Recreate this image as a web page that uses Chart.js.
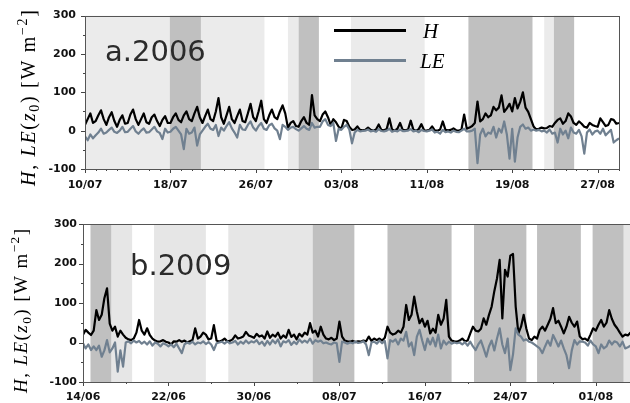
<!DOCTYPE html>
<html>
<head>
<meta charset="utf-8">
<script src="https://cdn.jsdelivr.net/npm/chart.js@4.4.1/dist/chart.umd.min.js"></script>
<style>
  html, body { margin: 0; padding: 0; background: #fff; }
  #wrap { position: relative; width: 630px; height: 403px; overflow: hidden; }
  #panelA { position: absolute; left: 0; top: 0; }
  #panelB { position: absolute; left: 0; top: 200px; }
</style>
</head>
<body>
<div id="wrap">
  <canvas id="panelA" width="630" height="200"></canvas>
  <canvas id="panelB" width="630" height="203"></canvas>
</div>
<script>
// 6-hourly fluxes (W m-2), one row per day starting at the first tick date
const STEP = 0.25;

// --- 2006: 10/07 .. 29/08 ---
const hA = [
  15, 30, 45, 20,   25, 40, 53, 30,   15, 35, 48, 25,   10, 28, 40, 18,
  20, 42, 55, 30,   15, 30, 45, 22,   18, 35, 42, 25,   12, 28, 38, 20,
  20, 35, 45, 28,   22, 40, 50, 30,   25, 45, 62, 35,   20, 38, 55, 30,
  25, 50, 85, 35,   18, 40, 62, 30,   20, 38, 55, 25,   22, 45, 70, 35,
  25, 50, 78, 30,   20, 40, 55, 35,   30, 50, 66, 45,    8, 20, 25, 12,
  10, 25, 35, 20,   15, 93, 40, 30,   25, 42, 50, 35,   15, 30, 22, 10,
   5, 28, 25, 10,    2,  3, 11,  2,    1,  2,  8,  2,    0,  3, 16,  2,
   1,  4, 32,  3,    0,  5, 20,  2,    1,  3, 26,  2,    0,  4, 17,  1,
   0,  2, 11,  1,    0,  3, 24,  2,    1,  2,  6,  1,    0,  3, 42,  5,
   8, 12, 20, 76,   24, 30, 45, 35,   40, 62, 53, 60,   92, 49, 58, 70,
  50, 85, 58, 75,  100, 60, 49, 30,   11,  3,  5,  8,    6,  7, 12, 10,
  20, 28, 32, 18,   25, 45, 37, 20,   15, 24, 18, 10,    8, 20, 15, 12,
  10, 32, 22, 12,   15, 30, 28, 18,   20
];
const leA = [
  -15, -25, -10, -20,  -12,  -5,   5,  -8,   -5,   2,   8,  -3,   -6,   0,  10,  -4,
   -3,   5,  12,  -2,   -8,   0,   6,  -5,   -4,   3,  10,  -2,   -6, -22,   5,  -5,
   -3,   5,  10,   0,  -10, -48,   5,  -8,   -5,   8, -39, -10,    0,  10,  18,   5,
    2,  15, -14,   8,    0,  12,  22,   6,   -5, -18,  15,   3,    2,  15,  24,   8,
    0,  12,  20,   5,    2,  14,  18,   6,    0, -22,  15,  10,    2,   8,  10,   4,
    0,   6,  12,   5,    2,  20,   8,  10,   10,  24,  30,  15,   12,  20, -27,   5,
    2,  10,  15,   3,  -33,  -5,   2,  -2,   -1,   0,   3,  -2,    0,  -3,   4,  -1,
   -2,   0,   5,  -3,    0,  -2,   3,  -1,   -1,   0,   4,  -2,    0,  -4,   2,  -1,
   -2,   0,   3,  -5,   -3,  -8,   2,  -4,   -2,  -5,   0,  -3,   -4,   0,   5,  -2,
   -2,   0,   5, -85,  -10,   5, -15,  -5,   -8,  10, -18,   5,   -5,  24, -10, -73,
    5, -81, -18,  10,   16,   5,   8,   0,    3,   0,   2,  -2,    0,  -5,   3,  -8,
   -5, -31,   5, -10,    0, -20,   8,  -5,   -8,   2, -15, -60,   -5,   3, -10,  -2,
    0,  -8,   5, -12,   -5,   2, -31, -25,  -20
];
const tickDaysA = [0, 8, 16, 24, 32, 40, 48];
const tickLabelsA = ['10/07', '18/07', '26/07', '03/08', '11/08', '19/08', '27/08'];
const lightA = [[0, 16.8], [19.0, 20.0], [24.9, 31.8], [43.0, 43.9]];
const darkA = [[7.95, 10.85], [20.0, 21.9], [35.9, 41.9], [43.9, 45.8]];

// --- 2009: 14/06 .. early 08 ---
const hB = [
   20,  32,  25,  19,   30,  82,  57,  70,  112, 137,  48,  30,   40,  15,  30,  20,
   12,   8,   6,  10,   25,  57,  30,  20,   36,  19,  10,   5,    2,   3,   6,   2,
    0,  -5,   3,   2,    6,   2,   5,   0,    3,   6,  36,  10,   15,  25,  20,   8,
   10,  44,   5,   2,    5,  10,   3,   4,    8,  18,  10,  12,   15,  27,  18,  15,
   12,  22,  15,  18,   10,  28,  12,  20,   15,  25,  10,  18,   12,  32,  14,  20,
    8,  22,  15,  25,   20,  49,  25,  30,   15,  40,  20,  10,    8,  12,   6,  10,
   53,  15,   5,   3,    2,   4,   1,   3,    2,   5,   3,  15,    4,  10,   6,  10,
    5,  12,  40,  25,   20,  23,  30,  25,   40,  95,  57,  70,  116,  78,  49,  60,
   40,  55,  23,  35,   25,  70,  45,  60,  108,  15,   5,   3,    2,   5,  10,   3,
    5,  23,  40,  30,   28,  35,  61,  45,   70,  91, 130, 162,  209,  61, 184, 167,
  220, 224,  91,  23,   40,  70,  35,  10,    6,  15,  10,  32,   40,  30,  45,  60,
   87,  49,  55,  40,   23,  40,  65,  50,   40,  53,  15,   8,   10,   5,  20,  36,
   30,  45,  57,  40,   50,  82,  60,  45,   36,  25,  15,  20,   18,  25
];
const leB = [
   -2, -15,  -5, -19,  -10, -19,  -8, -36,  -20,   6, -25, -15,    0, -74, -20, -61,
    0,   3,  -2,   5,    0,   4,  -3,   2,   -5,   3,  -8,   0,   -3, -10,  -2,  -5,
  -10,  -5, -12,  -3,  -15, -27,  -5,   0,   -3,   2,  -5,   0,   -2,   3,  -4,   1,
   -5, -19,  -2,   0,    2,  -3,   3,  -2,    0,   4,  -5,   2,   -3,   5,  -2,   3,
    0,   6,  -4,   2,   -8,   4,  -5,   6,   -2,   8, -10,   3,    0,   6,  -6,   2,
   -4,   8,   0,   5,    0,  10,  -3,   6,    2,   5,  -2,   0,   -3,  -5,   0,  -2,
  -49,   2,   0,  -3,    0,  -2,   2,  -1,    0,   3,  -5, -32,    0,   2,  -3,   5,
   -2,   4, -40,   6,    2,   8,  -5,  10,    5,  27, -10,   0,  -32,  15,  32,   5,
  -19,  10,  -5,  12,  -10,  20, -15,   5,   -5,   2,  -3,   0,   -2,   0,  -5,   1,
   -8,   2, -10, -19,   -5,   5, -15, -36,  -10,   5, -20,  10,   36,  -5, -27,  10,
  -70, -30,  36,  20,   15,   5,   8,   2,    0,  -5, -10, -15,  -27, -10,   5,  -8,
   19,   5, -10,   5,  -15, -32, -65, -20,    6,  -5,   3,   2,    0,  -8,   5,  -5,
  -10, -27,  -5, -15,  -10,   5,  -5,   3,    0, -10,   2, -15,  -12,  -8
];
const tickDaysB = [0, 8, 16, 24, 32, 40, 48];
const tickLabelsB = ['14/06', '22/06', '30/06', '08/07', '16/07', '24/07', '01/08'];
const lightB = [[2.65, 4.6], [6.65, 11.5], [13.6, 21.5], [50.6, 52]];
const darkB = [[0.7, 2.65], [21.5, 25.4], [28.5, 34.5], [36.6, 41.5], [42.5, 46.6], [47.7, 50.6]];

const H_COLOR = '#000000';
const LE_COLOR = '#708090';

const toPoints = vals => vals.map((v, i) => ({ x: i * STEP, y: v }));

const labelParts = [
  { t: 'H', i: true }, { t: ', ' }, { t: 'LE', i: true }, { t: '(' }, { t: 'z', i: true },
  { t: '0', sub: true }, { t: ') [W m' }, { t: '\u22122', sup: true }, { t: ']' }
];

function partFont(p, size) {
  const s = (p.sub || p.sup) ? size * 0.7 : size;
  return (p.i ? 'italic ' : '') + s.toFixed(2) + 'px "Liberation Serif"';
}

// rotated mathtext-like label, glyphs spread evenly over the wanted length
function drawAxisLabel(ctx, baseX, centerY, length, size) {
  const glyphs = [];
  labelParts.forEach(p => {
    ctx.font = partFont(p, size);
    [...p.t].forEach(ch => glyphs.push({ ch, p, w: ctx.measureText(ch).width }));
  });
  const natural = glyphs.reduce((s, g) => s + g.w, 0);
  const gap = Math.max(0, (length - natural) / (glyphs.length - 1));
  ctx.save();
  ctx.translate(baseX, centerY);
  ctx.rotate(-Math.PI / 2);
  ctx.fillStyle = '#000';
  ctx.textBaseline = 'alphabetic';
  let x = -length / 2;
  glyphs.forEach(g => {
    ctx.font = partFont(g.p, size);
    const dy = g.p.sub ? size * 0.2 : g.p.sup ? -size * 0.42 : 0;
    ctx.fillText(g.ch, x, dy);
    x += g.w + gap;
  });
  ctx.restore();
}

// shaded periods, tick marks, frame and panel text
const panelDecor = {
  id: 'panelDecor',
  beforeDatasetsDraw(chart, args, o) {
    const { ctx, chartArea: a, scales: { x } } = chart;
    ctx.save();
    ctx.beginPath();
    ctx.rect(a.left, a.top, a.right - a.left, a.bottom - a.top);
    ctx.clip();
    const band = (spans, color) => spans.forEach(([s, e]) => {
      const x0 = x.getPixelForValue(s), x1 = x.getPixelForValue(e);
      ctx.fillStyle = color;
      ctx.fillRect(x0, a.top, x1 - x0, a.bottom - a.top);
    });
    band(o.light, o.lightColor);
    band(o.dark, '#c0c0c0');
    ctx.restore();
  },
  afterDraw(chart, args, o) {
    const { ctx, chartArea: a, scales: { x, y } } = chart;
    ctx.save();
    ctx.strokeStyle = '#444';
    ctx.lineWidth = 1;
    ctx.beginPath();
    for (let d = 0; d <= x.max; d += o.minorStep) {
      const px = Math.round(x.getPixelForValue(d)) + 0.5;
      const len = o.ticks.includes(d) ? 4 : 2;
      ctx.moveTo(px, a.bottom);
      ctx.lineTo(px, a.bottom + len);
    }
    for (let v = y.min; v <= y.max; v += 50) {
      const py = Math.round(y.getPixelForValue(v)) + 0.5;
      const len = v % 100 === 0 ? 4 : 2;
      ctx.moveTo(a.left, py);
      ctx.lineTo(a.left - len, py);
    }
    ctx.stroke();

    ctx.strokeStyle = '#555';
    ctx.strokeRect(Math.round(a.left) + 0.5, Math.round(a.top) + 0.5,
      Math.round(a.right - a.left), Math.round(a.bottom - a.top));

    ctx.fillStyle = '#2b2b2b';
    ctx.font = '29px "DejaVu Sans"';
    ctx.textBaseline = 'alphabetic';
    ctx.fillText(o.title, o.titleX, o.titleY);

    drawAxisLabel(ctx, o.labelX, o.labelY, o.labelLen, o.labelSize);

    if (o.legend) {
      const items = [['H', H_COLOR, 30.5, 37.5, 423], ['LE', LE_COLOR, 60.5, 67.5, 420]];
      items.forEach(([name, color, ly, ty, tx]) => {
        ctx.strokeStyle = color;
        ctx.lineWidth = 3;
        ctx.beginPath();
        ctx.moveTo(334, ly);
        ctx.lineTo(406, ly);
        ctx.stroke();
        ctx.fillStyle = '#000';
        ctx.font = 'italic 21px "Liberation Serif"';
        ctx.fillText(name, tx, ty);
      });
    }
    ctx.restore();
  }
};

function makePanel(canvas, cfg) {
  const tickFont = { family: 'DejaVu Sans', weight: 'bold', size: 11 };
  return new Chart(canvas, {
    type: 'line',
    data: {
      datasets: [
        { label: 'H', data: toPoints(cfg.h), borderColor: H_COLOR, borderWidth: 2.2, order: 2 },
        { label: 'LE', data: toPoints(cfg.le), borderColor: LE_COLOR, borderWidth: 2.2, order: 1 }
      ]
    },
    options: {
      responsive: false,
      animation: false,
      events: [],
      layout: { padding: cfg.padding },
      elements: {
        point: { radius: 0 },
        line: { tension: 0, borderJoinStyle: 'round' }
      },
      scales: {
        x: {
          type: 'linear',
          min: 0,
          max: cfg.xMax,
          grid: { display: false, drawTicks: false },
          border: { display: false },
          afterBuildTicks: s => { s.ticks = cfg.tickDays.map(v => ({ value: v })); },
          afterFit: s => { s.height = cfg.xAxisHeight; },
          ticks: {
            autoSkip: false,
            maxRotation: 0,
            padding: cfg.xPad,
            color: '#111',
            font: tickFont,
            callback: (v, i) => cfg.tickLabels[i]
          }
        },
        y: {
          min: -100,
          max: 300,
          grid: { display: false, drawTicks: false },
          border: { display: false },
          afterFit: s => { s.width = cfg.yAxisWidth; },
          ticks: { stepSize: 100, padding: cfg.yPad, color: '#111', font: tickFont }
        }
      },
      plugins: {
        legend: { display: false },
        tooltip: { enabled: false },
        panelDecor: cfg.decor
      }
    },
    plugins: [panelDecor]
  });
}

makePanel(document.getElementById('panelA'), {
  h: hA, le: leA, xMax: 50,
  tickDays: tickDaysA, tickLabels: tickLabelsA,
  padding: { top: 11, right: 11, left: 0, bottom: 0 },
  xAxisHeight: 31, yAxisWidth: 85, xPad: 10, yPad: 9,
  decor: {
    light: lightA, dark: darkA, lightColor: '#ebebeb', minorStep: 1, ticks: tickDaysA,
    title: 'a.2006', titleX: 105, titleY: 61,
    labelX: 35, labelY: 98, labelLen: 176, labelSize: 20, legend: true
  }
});

makePanel(document.getElementById('panelB'), {
  h: hB, le: leB, xMax: 51.2,
  tickDays: tickDaysB, tickLabels: tickLabelsB,
  padding: { top: 24, right: 0, left: 0, bottom: 0 },
  xAxisHeight: 21, yAxisWidth: 83, xPad: 9, yPad: 6,
  decor: {
    light: lightB, dark: darkB, lightColor: '#e6e6e6', minorStep: 4, ticks: tickDaysB,
    title: 'b.2009', titleX: 130, titleY: 75,
    labelX: 27, labelY: 111, labelLen: 164, labelSize: 19, legend: false
  }
});
</script>
</body>
</html>
